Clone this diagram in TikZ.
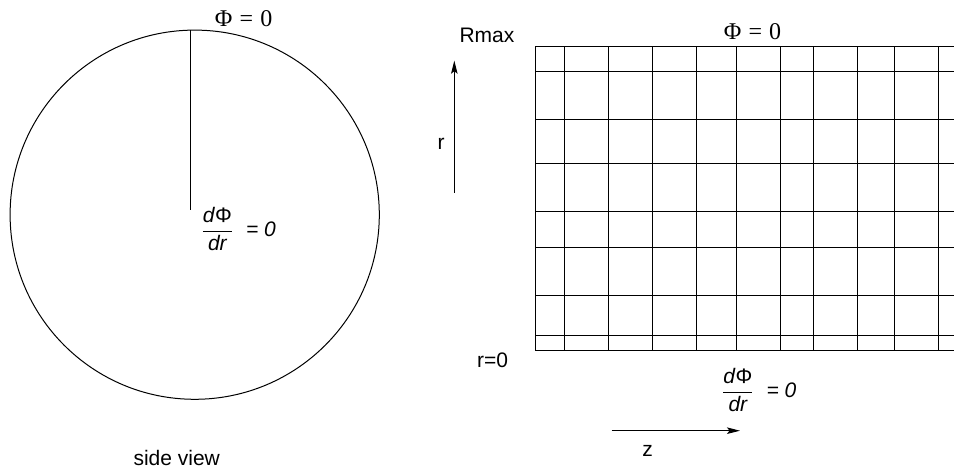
\documentclass[tikz,border=0pt]{standalone}
\usepackage{fontspec}
\setmainfont{Liberation Sans}
\newfontfamily\phifont{Liberation Serif}
\usetikzlibrary{arrows.meta}
\tikzset{
  lbl/.style={font=\fontsize{21}{25}\selectfont,inner sep=0pt,anchor=base},
  bcval/.style={font=\phifont\fontsize{24}{28}\selectfont,inner sep=0pt,anchor=base},
  deriv/.style={font=\itshape\fontsize{21}{25}\selectfont,inner sep=0pt,anchor=base west},
  ln/.style={line width=1pt},
  axarr/.style={-{Stealth[length=13pt,width=6.5pt,inset=2.5pt]},line width=1pt},
}
\newcommand{\dphidr}{$\displaystyle\frac{\mbox{\fontsize{21}{25}\selectfont d\kern0.5pt\textup{Φ}}}{\mbox{\fontsize{21}{25}\selectfont dr}}$\hspace{13pt}= 0}
\begin{document}
\begin{tikzpicture}[x=1pt,y=-1pt]
\useasboundingbox (0,0) rectangle (954,470);
% side view
\node[circle,draw,ln,minimum size=369.2pt,inner sep=0pt] (disk) at (194.7,214.7) {};
\coordinate (rtop) at (190.7,30.2);
\coordinate (rmid) at (190.7,210);
\draw[ln] (rtop) -- (rmid);
\node[bcval] (phidisk) at (243.7,26.7) {Φ\hspace{0.3em}=\hspace{0.3em}0};
\node[deriv] (derdisk) at (201.5,236.5) {\dphidr};
\node[lbl] (side) at (176.7,466) {side view};
% mesh
\draw[ln] (535,46.5) -- (954,46.5);
\draw[ln] (535,72) -- (954,72);
\draw[ln] (535,120) -- (954,120);
\draw[ln] (535,164) -- (954,164);
\draw[ln] (535,211.5) -- (954,211.5);
\draw[ln] (535,248) -- (954,248);
\draw[ln] (535,296) -- (954,296);
\draw[ln] (535,336) -- (954,336);
\draw[ln] (535,350.5) -- (954,350.5);
\draw[ln] (535,46.5) -- (535,350.5) (564.3,46.5) -- (564.3,350.5)
  (608.3,46.5) -- (608.3,350.5) (652.3,46.5) -- (652.3,350.5);
\draw[ln] (696.3,46.5) -- (696.3,350.5) (736.7,46.5) -- (736.7,350.5)
  (780.3,46.5) -- (780.3,350.5) (813.3,46.5) -- (813.3,350.5);
\draw[ln] (857.7,46.5) -- (857.7,350.5) (894.3,46.5) -- (894.3,350.5)
  (938.3,46.5) -- (938.3,350.5);
\node[bcval] (phimesh) at (752.5,39.3) {Φ\hspace{0.3em}=\hspace{0.3em}0};
\node[deriv] (dermesh) at (722,397.3) {\dphidr};
% axes
\node[lbl] (rmax) at (487,42.3) {Rmax};
\node[lbl] (rzero) at (492.5,368) {r=0};
\coordinate (rfoot) at (454.3,192.7);
\coordinate (rtip) at (454.3,60.7);
\draw[axarr] (rfoot) -- (rtip);
\node[lbl] (rname) at (441,149.3) {r};
\coordinate (zfoot) at (611.7,430.7);
\coordinate (ztip) at (740,430.7);
\draw[axarr] (zfoot) -- (ztip);
\node[lbl] (zname) at (647.5,456.7) {z};
\end{tikzpicture}
\end{document}
